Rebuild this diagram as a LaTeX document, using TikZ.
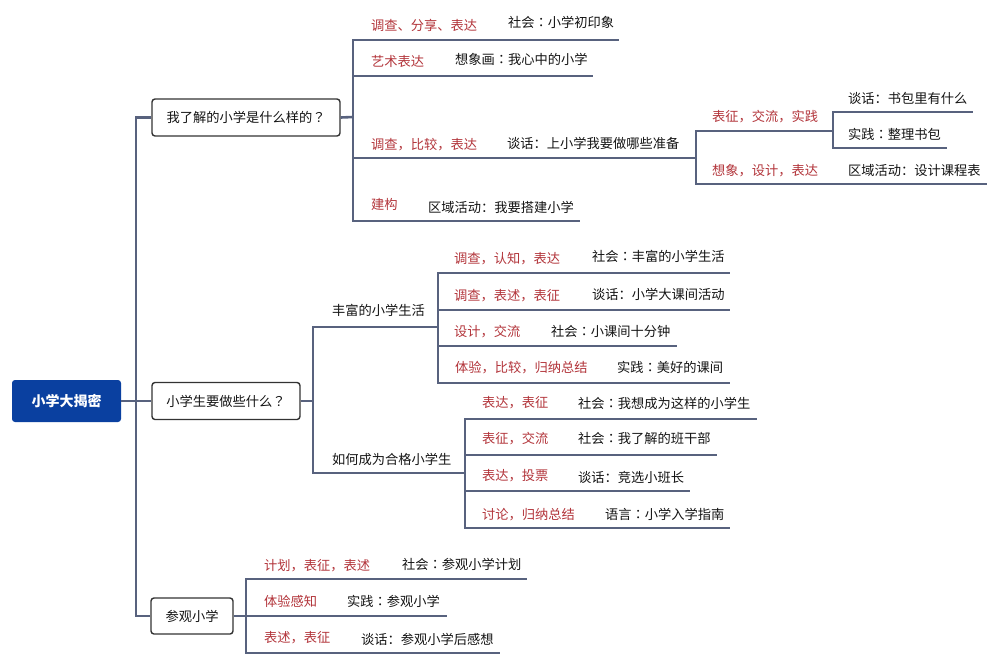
\documentclass[tikz,border=0pt]{standalone}
\usepackage{fontspec}
\setmainfont{Noto Sans CJK SC}
\newfontfamily\tcfont{Noto Sans CJK TC}
\newcommand{\cc}{{\tcfont ：}}
\newcommand{\qq}{{\tcfont ？}}
\definecolor{linec}{RGB}{88,98,126}
\definecolor{labred}{RGB}{178,52,58}
\definecolor{rootblue}{RGB}{10,64,160}
\definecolor{txt}{RGB}{20,20,20}
\tikzset{
  conn/.style={draw=linec, line width=2.6pt, line join=miter},
  lab/.style={text=labred, anchor=base west, inner sep=0pt, font=\fontsize{13.25}{16}\selectfont},
  act/.style={text=txt, anchor=base west, inner sep=0pt, font=\fontsize{13.25}{16}\selectfont},
  topic/.style={draw=black!80, line width=1.4pt, rounded corners=3pt, fill=white, inner sep=0pt, text=txt, font=\fontsize{13.25}{16}\selectfont},
  rootbox/.style={fill=rootblue, rounded corners=3pt, inner sep=0pt, text=white, font=\fontsize{14}{16}\selectfont\bfseries, minimum width=109pt, minimum height=42pt}
}
\begin{document}
\begin{tikzpicture}[x=1pt,y=-1pt]
\useasboundingbox (0,0) rectangle (999,665);
% ---------- branch coordinates ----------
\coordinate (tr) at (136,401);
\coordinate (b1) at (353,117);
\coordinate (e11) at (619,40);
\coordinate (e12) at (593,76);
\coordinate (b13) at (696,158);
\coordinate (e14) at (580,221);
\coordinate (b131) at (833,131);
\coordinate (e1311) at (973,112);
\coordinate (e1312) at (947,148);
\coordinate (e132) at (987,184);
\coordinate (b2) at (313,401);
\coordinate (b21) at (438,327);
\coordinate (b22) at (465,473);
\coordinate (e211) at (730,273);
\coordinate (e212) at (730,310);
\coordinate (e213) at (677,346);
\coordinate (e214) at (730,383);
\coordinate (e221) at (757,419);
\coordinate (e222) at (717,455);
\coordinate (e223) at (690,491);
\coordinate (e224) at (730,528);
\coordinate (b3) at (246,616);
\coordinate (e31) at (527,579);
\coordinate (e32) at (447,616);
\coordinate (e33) at (500,653);
% ---------- main nodes ----------
\node[rootbox] (root) at (66.5,401) {小学大揭密};
\node[topic, minimum width=188pt, minimum height=37pt] (t1) at (246,117.5) {我了解的小学是什么样的\qq};
\node[topic, minimum width=148pt, minimum height=37pt] (t2) at (226,401) {小学生要做些什么\qq};
\node[topic, minimum width=82pt, minimum height=36pt] (t3) at (192,616) {参观小学};
% ---------- connectors ----------
\draw[conn] (root.east) -- (tr);
\draw[conn] (tr) |- (t1.west);
\draw[conn] (tr) |- (t3.west);
\draw[conn] (tr) -- (t2.west);
% group 1
\draw[conn] (t1.east) -- (b1);
\draw[conn] (b1) |- (e11);
\draw[conn] (b1) |- (e12);
\draw[conn] (b1) |- (b13);
\draw[conn] (b1) |- (e14);
\draw[conn] (b13) |- (b131);
\draw[conn] (b13) |- (e132);
\draw[conn] (b131) |- (e1311);
\draw[conn] (b131) |- (e1312);
% group 2
\draw[conn] (t2.east) -- (b2);
\draw[conn] (b2) |- (b21);
\draw[conn] (b2) |- (b22);
\draw[conn] (b21) |- (e211);
\draw[conn] (b21) |- (e212);
\draw[conn] (b21) |- (e213);
\draw[conn] (b21) |- (e214);
\draw[conn] (b22) |- (e221);
\draw[conn] (b22) |- (e222);
\draw[conn] (b22) |- (e223);
\draw[conn] (b22) |- (e224);
% group 3
\draw[conn] (t3.east) -- (b3);
\draw[conn] (b3) |- (e31);
\draw[conn] (b3) |- (e32);
\draw[conn] (b3) |- (e33);
% ---------- labels: group 1 ----------
\node[lab] (r11) at (371,30.5) {调查、分享、表达};
\node[act] (a11) at (508,27) {社会\cc 小学初印象};
\node[lab] (r12) at (371,66) {艺术表达};
\node[act] (a12) at (455,64) {想象画\cc 我心中的小学};
\node[lab] (r13) at (371,149) {调查，比较，表达};
\node[act] (a13) at (507,148) {谈话：上小学我要做哪些准备};
\node[lab] (r14) at (371,209) {建构};
\node[act] (a14) at (428,212) {区域活动：我要搭建小学};
\node[lab] (r131) at (712,121) {表征，交流，实践};
\node[act] (a1311) at (848,103) {谈话：书包里有什么};
\node[act] (a1312) at (848,139) {实践\cc 整理书包};
\node[lab] (r132) at (712,175) {想象，设计，表达};
\node[act] (a132) at (848,175) {区域活动：设计课程表};
% ---------- labels: group 2 ----------
\node[act] (s21) at (332,315) {丰富的小学生活};
\node[lab] (r211) at (454,263) {调查，认知，表达};
\node[act] (a211) at (592,261) {社会\cc 丰富的小学生活};
\node[lab] (r212) at (454,300) {调查，表述，表征};
\node[act] (a212) at (592,299) {谈话：小学大课间活动};
\node[lab] (r213) at (454,336) {设计，交流};
\node[act] (a213) at (551,336) {社会\cc 小课间十分钟};
\node[lab] (r214) at (455,372) {体验，比较，归纳总结};
\node[act] (a214) at (617,372) {实践\cc 美好的课间};
\node[act] (s22) at (332,464) {如何成为合格小学生};
\node[lab] (r221) at (482,407) {表达，表征};
\node[act] (a221) at (578,408) {社会\cc 我想成为这样的小学生};
\node[lab] (r222) at (482,443) {表征，交流};
\node[act] (a222) at (578,443) {社会\cc 我了解的班干部};
\node[lab] (r223) at (482,480) {表达，投票};
\node[act] (a223) at (578,482) {谈话：竞选小班长};
\node[lab] (r224) at (482,519) {讨论，归纳总结};
\node[act] (a224) at (605,519) {语言\cc 小学入学指南};
% ---------- labels: group 3 ----------
\node[lab] (r31) at (264,570) {计划，表征，表述};
\node[act] (a31) at (402,569) {社会\cc 参观小学计划};
\node[lab] (r32) at (264,606) {体验感知};
\node[act] (a32) at (347,606) {实践\cc 参观小学};
\node[lab] (r33) at (264,642) {表述，表征};
\node[act] (a33) at (361,644) {谈话：参观小学后感想};
\end{tikzpicture}
\end{document}
